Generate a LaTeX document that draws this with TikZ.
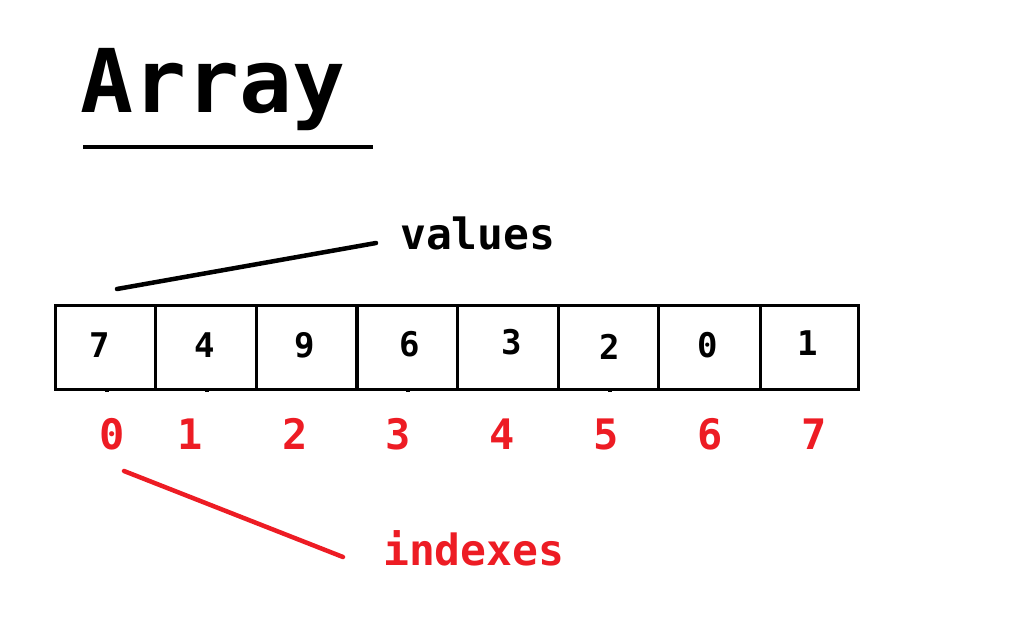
\documentclass[tikz,border=0pt]{standalone}
\usepackage{fontspec}
\setmonofont{DejaVu Sans Mono}
\definecolor{pred}{RGB}{237,28,36}
\begin{document}
\begin{tikzpicture}[x=1pt,y=-1pt,
  cell/.style={draw=black,line width=3pt,minimum height=84pt,inner sep=0pt,anchor=north west},
  val/.style={font=\ttfamily\bfseries\fontsize{34}{34}\selectfont,anchor=base,inner sep=0pt},
  idx/.style={font=\ttfamily\bfseries\fontsize{42}{42}\selectfont,text=pred,anchor=base,inner sep=0pt},
  lbl/.style={font=\ttfamily\bfseries\fontsize{43}{43}\selectfont,anchor=base west,inner sep=0pt},
  tick/.style={fill=black,minimum width=4pt,minimum height=3pt,inner sep=0pt}]
\useasboundingbox (0,0) rectangle (1024,632);
% title
\node[font=\ttfamily\bfseries\fontsize{88}{88}\selectfont,anchor=base west,inner sep=0pt] (title) at (80,112) {Array};
\coordinate (ul1) at (83,147);
\coordinate (ul2) at (373,147);
\draw[line width=4.5pt] (ul1) -- (ul2);
% cells
\node[cell,minimum width=100pt] (c0) at (54,304) {};
\node[cell,minimum width=101pt] (c1) at (154,304) {};
\node[cell,minimum width=101pt] (c2) at (255,304) {};
\node[cell,minimum width=101pt] (c3) at (355,304) {};
\node[cell,minimum width=101pt] (c4) at (456,304) {};
\node[cell,minimum width=100pt] (c5) at (557,304) {};
\node[cell,minimum width=102pt] (c6) at (657,304) {};
\node[cell,minimum width=98pt] (c7) at (759,304) {};
% values
\node[val] (v0) at (100,357) {7};
\node[val] (v1) at (205,357) {4};
\node[val] (v2) at (305,357) {9};
\node[val] (v3) at (410,356) {6};
\node[val] (v4) at (512,354) {3};
\node[val] (v5) at (610,359) {2};
\node[val] (v6) at (708,357) {0};
\node[val] (v7) at (808,355) {1};
% small marks under cells
\node[tick] (t0) at (107,390) {};
\node[tick] (t1) at (207,390) {};
\node[tick] (t2) at (408,390) {};
\node[tick] (t3) at (610,390) {};
% indexes
\node[idx] (i0) at (112,449) {0};
\node[idx] (i1) at (190,449) {1};
\node[idx] (i2) at (295,449) {2};
\node[idx] (i3) at (398,449) {3};
\node[idx] (i4) at (502,449) {4};
\node[idx] (i5) at (606,449) {5};
\node[idx] (i6) at (710,449) {6};
\node[idx] (i7) at (814,449) {7};
% labels
\node[lbl] (values) at (400,249) {values};
\node[lbl,text=pred] (indexes) at (383,565) {indexes};
\coordinate (vtip) at (117,289);
\coordinate (vend) at (376,243);
\draw[line width=4.5pt,line cap=round] (vtip) -- (vend);
\coordinate (itip) at (124,471);
\coordinate (iend) at (343,557);
\draw[pred,line width=4.5pt,line cap=round] (itip) -- (iend);
\end{tikzpicture}
\end{document}
